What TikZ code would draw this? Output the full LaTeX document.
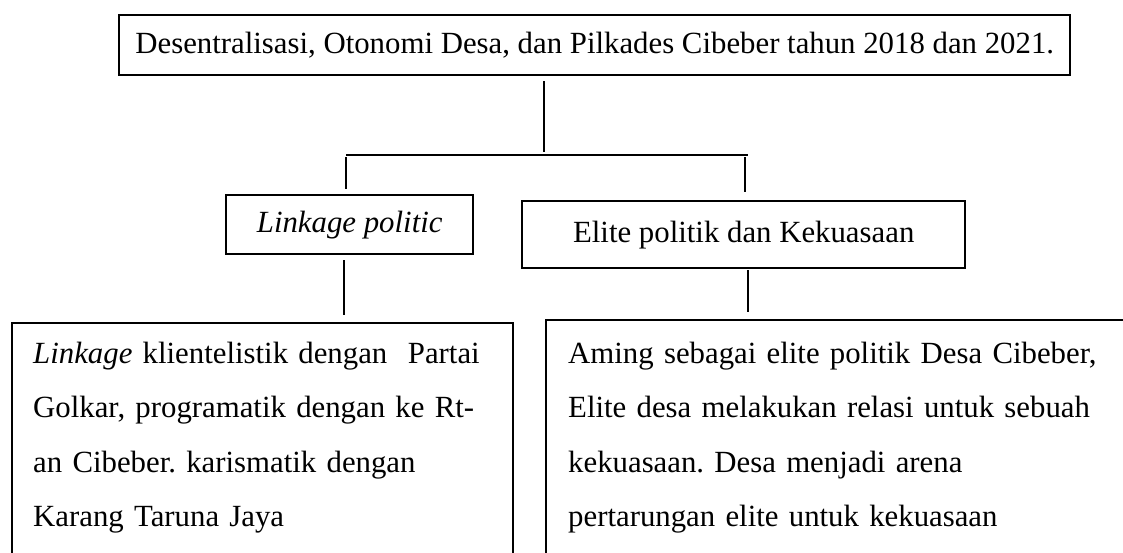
\documentclass[tikz,border=0pt]{standalone}
\usepackage{fontspec}
\setmainfont{Liberation Serif}
\frenchspacing
\begin{document}
\begin{tikzpicture}[x=1pt,y=-1pt,
  box/.style={draw,line width=2.4pt,inner sep=0pt,anchor=north west,font=\fontsize{30.8}{54.5}\selectfont},
  textbox/.style={box,align=left,inner ysep=0pt},
  conn/.style={line width=1.25pt}]
\useasboundingbox[fill=white] (0,0) rectangle (1123,552);
% boxes
\node[box,minimum width=951pt,minimum height=60pt] (top) at (118,14)
  {Desentralisasi, Otonomi Desa, dan Pilkades Cibeber tahun 2018 dan 2021.};
\node[box,minimum width=247pt,minimum height=59pt] (link) at (225,194)
  {\itshape Linkage politic};
\node[box,minimum width=443pt,minimum height=67pt] (elite) at (521,200)
  {Elite politik dan Kekuasaan};
\node[textbox,text width=459pt,inner xsep=21pt] (bl) at (11,322)
  {\rule{0pt}{40pt}\textit{Linkage} klientelistik dengan\ \ Partai\\
   Golkar, programatik dengan ke Rt-\\
   an Cibeber. karismatik dengan\\
   Karang Taruna Jaya\rule[-40pt]{0pt}{40pt}};
\node[textbox,text width=560pt,inner xsep=22pt] (br) at (545,319)
  {\rule{0pt}{43pt}Aming sebagai elite politik Desa Cibeber,\\
   Elite desa melakukan relasi untuk sebuah\\
   kekuasaan. Desa menjadi arena\\
   pertarungan elite untuk kekuasaan\rule[-40pt]{0pt}{40pt}};
% junction coordinates
\coordinate (hub) at (544,155);
\coordinate (hl) at (346,155);
\coordinate (hr) at (748,155);
\coordinate (dr) at (745,155);
\coordinate (ml) at (344,300);
\coordinate (mr) at (748,300);
% connectors
\draw[conn] ([yshift=-5pt]top.south -| hub) -- ([yshift=3pt]hub);
\draw[conn] (hl) -- (hr);
\draw[conn] ([yshift=-2pt]hl) -- ([yshift=5pt]link.north -| hl);
\draw[conn] ([yshift=-2pt]dr) -- ([yshift=8pt]elite.north -| dr);
\draw[conn] ([yshift=-5pt]link.south -| ml) -- ([yshift=7pt]bl.north -| ml);
\draw[conn] ([yshift=-1pt]elite.south -| mr) -- ([yshift=7pt]br.north -| mr);
\end{tikzpicture}
\end{document}
